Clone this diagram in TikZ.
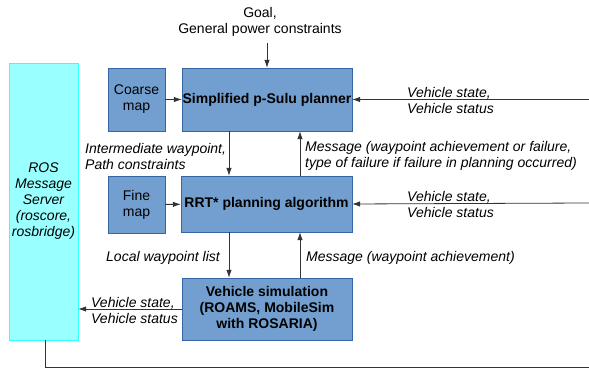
\documentclass[tikz,border=0pt]{standalone}
\usepackage{fontspec}
\usetikzlibrary{arrows.meta}
\setmainfont{Liberation Sans}
\definecolor{boxfill}{HTML}{729FCF}
\definecolor{boxline}{HTML}{3465A4}
\definecolor{rosfill}{HTML}{99FFFF}
\definecolor{rosline}{HTML}{33FFFF}
\begin{document}
\begin{tikzpicture}[x=1pt,y=1pt,>={Latex[length=8pt,width=5.5pt]},
    every node/.style={font=\fontsize{14}{16}\selectfont},
    blk/.style={draw=boxline, fill=boxfill, inner sep=0pt, align=center},
    lbl/.style={font=\fontsize{14}{16}\selectfont\itshape, inner sep=0pt, align=left}]
  \useasboundingbox (0,0) rectangle (589,369);
  \draw
    (43.5,167.5) node[draw=rosline, fill=rosfill, minimum width=69pt, minimum height=277pt, inner sep=0pt, align=center,
      font=\fontsize{14}{16}\selectfont\itshape] (ros){ROS\\Message\\Server\\(roscore,\\rosbridge)}
    (136.5,269.5) node[blk, minimum width=57pt, minimum height=63pt] (coarse){Coarse\\map}
    (136.5,164.5) node[blk, minimum width=57pt, minimum height=57pt] (fine){Fine\\map}
    (267,269.5) node[blk, minimum width=170pt, minimum height=63pt, font=\fontsize{14}{16}\selectfont\bfseries] (psulu){Simplified p-Sulu planner}
    (266.5,165) node[blk, minimum width=171pt, minimum height=56pt, font=\fontsize{14}{16}\selectfont\bfseries] (rrt){RRT* planning algorithm}
    (267,60) node[blk, minimum width=170pt, minimum height=62pt, font=\fontsize{14}{16}\selectfont\bfseries] (sim){Vehicle simulation\\(ROAMS, MobileSim\\with ROSARIA)}
    (260,347) node[inner sep=0pt, align=center] (goal){Goal,\\General power constraints};
  \draw
    (85,213) node[lbl, anchor=west] (interlbl){Intermediate waypoint,\\Path constraints}
    (305,213) node[lbl, anchor=west] (msglbl){Message (waypoint achievement or failure,\\type of failure if failure in planning occurred)}
    (220,111) node[lbl, anchor=east] (locallbl){Local waypoint list}
    (306,111) node[lbl, anchor=west] (achlbl){Message (waypoint achievement)}
    (178,59) node[lbl, anchor=east] (simstate){Vehicle state,\\Vehicle status}
    (407,268.5) node[lbl, anchor=west] (psulustate){Vehicle state,\\Vehicle status}
    (407,164.5) node[lbl, anchor=west] (rrtstate){Vehicle state,\\Vehicle status};
  \coordinate (goalin) at (267,326);
  \coordinate (psuluin) at (589,269.5);
  \coordinate (rrtin) at (589,166);
  \coordinate (bottomleft) at (45,2);
  \coordinate (bottomright) at (589,2);
  \begin{scope}[->, line width=0.8pt, draw=black!80]
    \draw (goalin) to (goalin |- psulu.north);
    \draw (coarse) to (psulu);
    \draw (fine) to (rrt);
    \draw ([xshift=-38pt]psulu.south) to ([xshift=-37.5pt]rrt.north);
    \draw ([xshift=33.5pt]rrt.north) to ([xshift=33pt]psulu.south);
    \draw ([xshift=-37.5pt]rrt.south) to ([xshift=-38pt]sim.north);
    \draw ([xshift=33pt]sim.north) to ([xshift=33.5pt]rrt.south);
    \draw (psuluin) to (psulu.east);
    \draw (rrtin) to (rrt.east);
    \draw (sim.west) to (sim.west -| ros.east);
  \end{scope}
  \draw[line width=0.8pt, draw=black!80] (ros.south -| bottomleft) |- (bottomright);
\end{tikzpicture}
\end{document}
